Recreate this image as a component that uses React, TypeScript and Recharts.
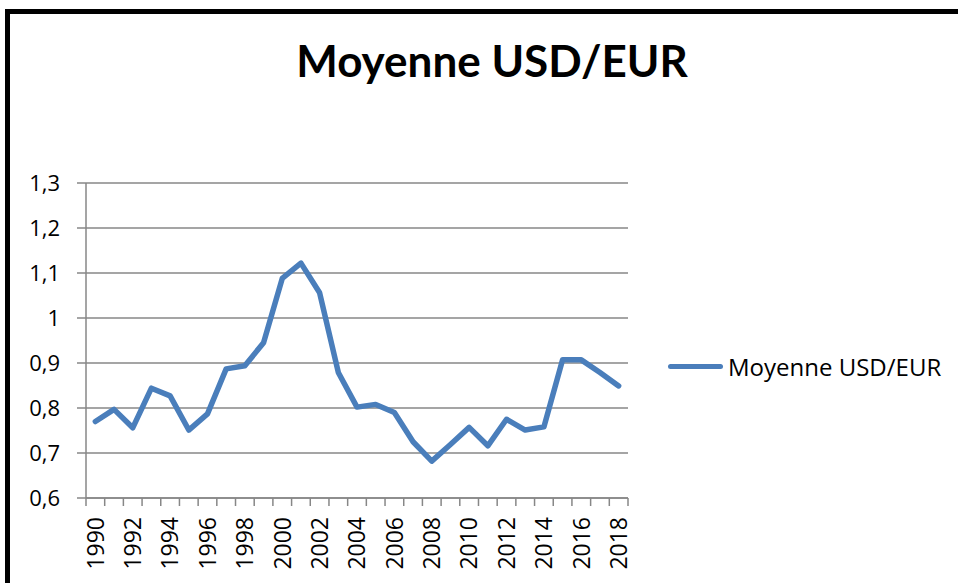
import { LineChart, Line, XAxis, YAxis, CartesianGrid, Legend } from "recharts";

// annual average USD/EUR
const years = [
  1990, 1991, 1992, 1993, 1994, 1995, 1996, 1997, 1998, 1999,
  2000, 2001, 2002, 2003, 2004, 2005, 2006, 2007, 2008, 2009,
  2010, 2011, 2012, 2013, 2014, 2015, 2016, 2017, 2018,
];
const rates = [
  0.770, 0.797, 0.756, 0.844, 0.827, 0.751, 0.787, 0.887, 0.894, 0.945,
  1.088, 1.122, 1.056, 0.879, 0.802, 0.808, 0.790, 0.725, 0.682, 0.719,
  0.757, 0.716, 0.775, 0.751, 0.758, 0.907, 0.907, 0.879, 0.849,
];
const yTicks = [0.6, 0.7, 0.8, 0.9, 1, 1.1, 1.2, 1.3];
const seriesName = "Moyenne USD/EUR";

const data = years.map((year, i) => ({ year, value: rates[i] }));
const labelYears = years.filter((y) => y % 2 === 0);
// tick marks sit between categories, like Excel
const boundaries = [...years.map((y) => y - 0.5), years[years.length - 1] + 0.5];
const xDomain = [boundaries[0], boundaries[boundaries.length - 1]];

const GRID = "#878787";
const BLUE = "#4A7EBB";

function YearTick({ x, y, payload }: { x?: number; y?: number; payload?: { value: number } }) {
  return (
    <g transform={`translate(${x},${y})`}>
      <text
        transform="rotate(-90)"
        textAnchor="end"
        dy="0.36em"
        fontSize={23}
        fontFamily="'Open Sans', sans-serif"
        fill="#000"
      >
        {payload?.value}
      </text>
    </g>
  );
}

function LegendBox() {
  return (
    <div style={{ display: "flex", alignItems: "center" }}>
      <div style={{ width: 55, height: 5, borderRadius: 3, background: BLUE, marginRight: 5 }} />
      <span style={{ fontSize: 24, fontFamily: "'Open Sans', sans-serif", color: "#000" }}>
        {seriesName}
      </span>
    </div>
  );
}

export default function App() {
  return (
    <div
      style={{
        position: "fixed",
        left: 0,
        top: 0,
        width: 958,
        height: 583,
        overflow: "hidden",
        background: "#fff",
      }}
    >
      <div
        style={{
          position: "absolute",
          left: 5,
          top: 9,
          width: 1000,
          height: 700,
          border: "5px solid #000",
        }}
      />
      <div
        style={{
          position: "absolute",
          left: 0,
          width: 984,
          top: 38,
          textAlign: "center",
          fontFamily: "Lato, sans-serif",
          fontWeight: 700,
          fontSize: 44,
          lineHeight: "44px",
          color: "#000",
        }}
      >
        Moyenne USD/EUR
      </div>
      <div style={{ position: "absolute", left: 0, top: 0 }}>
        <LineChart
          width={958}
          height={583}
          data={data}
          margin={{ top: 183, right: 330, left: 0, bottom: 0 }}
        >
          <CartesianGrid vertical={false} stroke={GRID} strokeWidth={1.5} />
          {/* height must be > 0 or the axis is not drawn */}
          <XAxis
            xAxisId="edges"
            dataKey="year"
            type="number"
            domain={xDomain}
            ticks={boundaries}
            interval={0}
            height={1}
            tickFormatter={() => ""}
            tickSize={8}
            tickLine={{ stroke: GRID, strokeWidth: 1.5 }}
            axisLine={{ stroke: GRID, strokeWidth: 1.5 }}
          />
          <XAxis
            xAxisId="labels"
            dataKey="year"
            type="number"
            domain={xDomain}
            ticks={labelYears}
            interval={0}
            height={84}
            tickSize={0}
            tickMargin={18}
            tickLine={false}
            axisLine={false}
            tick={<YearTick />}
          />
          <YAxis
            type="number"
            domain={[0.6, 1.3]}
            ticks={yTicks}
            interval={0}
            width={86}
            tickSize={9}
            tickMargin={17}
            tickLine={{ stroke: GRID, strokeWidth: 1.5 }}
            axisLine={{ stroke: GRID, strokeWidth: 1.5 }}
            tickFormatter={(v) => String(v).replace(".", ",")}
            tick={{ fontSize: 22, fill: "#000", fontFamily: "'Open Sans', sans-serif" }}
          />
          <Legend
            layout="horizontal"
            verticalAlign="middle"
            align="center"
            content={<LegendBox />}
            wrapperStyle={{ left: 668, top: 350, width: "auto" }}
          />
          <Line
            xAxisId="labels"
            dataKey="value"
            name={seriesName}
            type="linear"
            stroke={BLUE}
            strokeWidth={5.5}
            strokeLinejoin="round"
            strokeLinecap="round"
            dot={false}
            activeDot={false}
            isAnimationActive={false}
          />
        </LineChart>
      </div>
    </div>
  );
}
